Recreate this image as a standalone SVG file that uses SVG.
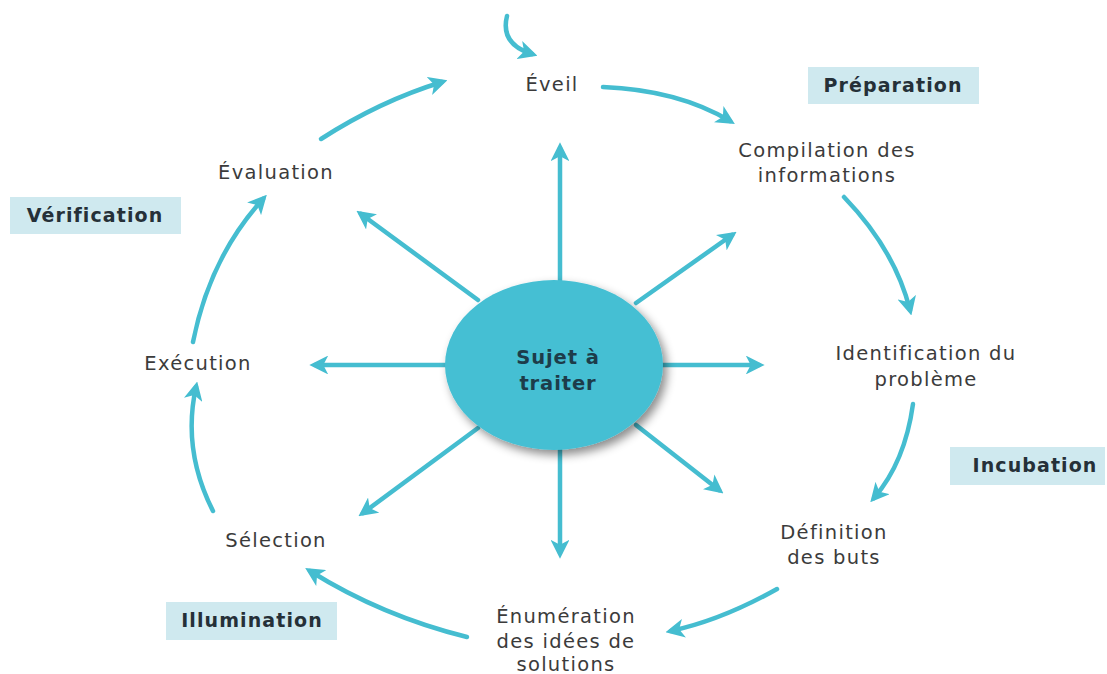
<svg xmlns="http://www.w3.org/2000/svg" width="1107" height="674" viewBox="0 0 1107 674">
  <defs>
    <marker id="head" viewBox="0 0 10 10" refX="7" refY="5" markerWidth="4.2" markerHeight="4.2" orient="auto" markerUnits="strokeWidth">
      <path d="M0,0 L10,5 L0,10 L2.6,5 Z" fill="#45bdd0"/>
    </marker>
    <filter id="shadow" x="-20%" y="-20%" width="150%" height="150%">
      <feDropShadow dx="4" dy="5" stdDeviation="5" flood-color="#000" flood-opacity="0.45"/>
    </filter>
    <style>
      .arrow { fill: none; stroke: #45bdd0; stroke-width: 4.5; stroke-linecap: round; marker-end: url(#head); }
      .label { font-family: "DejaVu Sans", "Open Sans", sans-serif; font-size: 19.5px; fill: #3b3b3b; text-anchor: middle; letter-spacing: 1.3px; }
      .phase-box { fill: #cfe9ef; }
      .phase { font-family: "DejaVu Sans", "Open Sans", sans-serif; font-size: 19px; font-weight: bold; fill: #253038; text-anchor: middle; letter-spacing: 1.1px; }
      .core { font-family: "DejaVu Sans", "Open Sans", sans-serif; font-size: 19.5px; font-weight: bold; fill: #1d3c4a; text-anchor: middle; letter-spacing: 0.9px; }
    </style>
  </defs>
  <rect width="1107" height="674" fill="#ffffff"/>

  <g id="connectors">
    <!-- radial arrows from the centre -->
    <line class="arrow" x1="560" y1="282" x2="560" y2="148"/>
    <line class="arrow" x1="560" y1="448" x2="560" y2="553"/>
    <line class="arrow" x1="447" y1="365" x2="315" y2="365"/>
    <line class="arrow" x1="662" y1="365" x2="759" y2="365"/>
    <line class="arrow" x1="478" y1="300" x2="361" y2="214"/>
    <line class="arrow" x1="636" y1="303" x2="732" y2="235"/>
    <line class="arrow" x1="478" y1="428" x2="363" y2="513"/>
    <line class="arrow" x1="636" y1="425" x2="719" y2="490"/>
    <!-- cycle arrows -->
    <path class="arrow" d="M507,16 Q500,44 532,54"/>
    <path class="arrow" d="M603,87 Q678,90 730,121"/>
    <path class="arrow" d="M844,197 Q895,250 910,310"/>
    <path class="arrow" d="M913,404 Q905,462 874,498"/>
    <path class="arrow" d="M777,589 Q722,620 671,631"/>
    <path class="arrow" d="M467,637 Q382,616 310,571"/>
    <path class="arrow" d="M213,511 Q182,450 196,387"/>
    <path class="arrow" d="M193,342 Q210,257 263,199"/>
    <path class="arrow" d="M321,139 Q380,101 442,82"/>
  </g>

  <g id="node-center">
    <ellipse cx="554" cy="365" rx="109" ry="85" fill="#45bfd3" filter="url(#shadow)"/>
    <text class="core" x="558" y="364">Sujet à</text>
    <text class="core" x="558" y="390">traiter</text>
  </g>

  <g id="node-eveil"><text class="label" x="552" y="91">Éveil</text></g>
  <g id="node-compilation">
    <text class="label" x="827" y="157">Compilation des</text>
    <text class="label" x="827" y="182">informations</text>
  </g>
  <g id="node-identification">
    <text class="label" x="926" y="360">Identification du</text>
    <text class="label" x="926" y="386">problème</text>
  </g>
  <g id="node-definition">
    <text class="label" x="834" y="539">Définition</text>
    <text class="label" x="834" y="564">des buts</text>
  </g>
  <g id="node-enumeration">
    <text class="label" x="566" y="623">Énumération</text>
    <text class="label" x="566" y="648">des idées de</text>
    <text class="label" x="566" y="671">solutions</text>
  </g>
  <g id="node-selection"><text class="label" x="276" y="547">Sélection</text></g>
  <g id="node-execution"><text class="label" x="198" y="370">Exécution</text></g>
  <g id="node-evaluation"><text class="label" x="276" y="179">Évaluation</text></g>

  <g id="phase-preparation">
    <rect class="phase-box" x="808" y="67" width="171" height="37"/>
    <text class="phase" x="893" y="92">Préparation</text>
  </g>
  <g id="phase-verification">
    <rect class="phase-box" x="10" y="197" width="171" height="37"/>
    <text class="phase" x="95" y="222">Vérification</text>
  </g>
  <g id="phase-incubation">
    <rect class="phase-box" x="950" y="447" width="155" height="38"/>
    <text class="phase" x="1035" y="472">Incubation</text>
  </g>
  <g id="phase-illumination">
    <rect class="phase-box" x="166" y="602" width="171" height="38"/>
    <text class="phase" x="252" y="627">Illumination</text>
  </g>
</svg>
